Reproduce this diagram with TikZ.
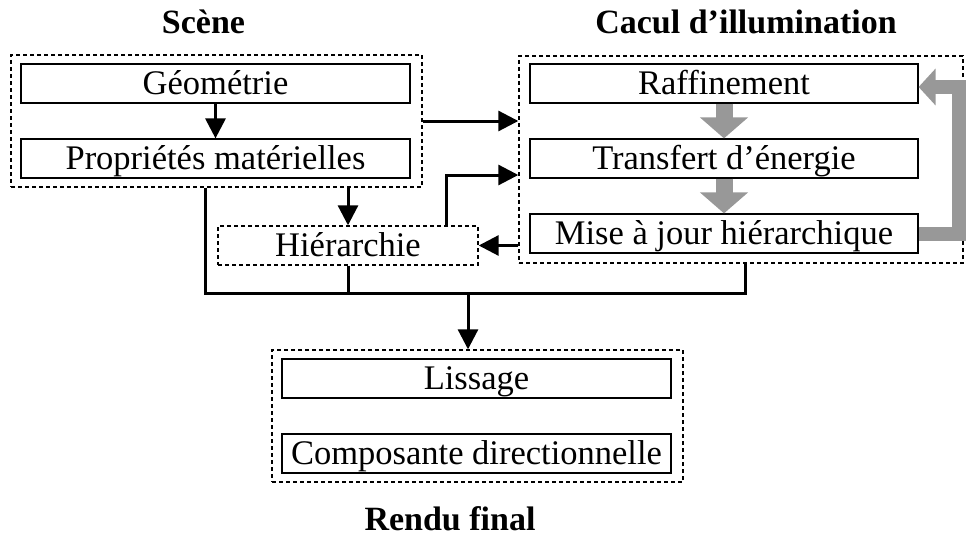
\documentclass[tikz,border=0pt]{standalone}
\usepackage{fontspec}
\setmainfont{Liberation Serif}
\usetikzlibrary{arrows.meta}
\definecolor{arrgray}{RGB}{152,152,152}
\tikzset{
  inbox/.style={draw, line width=1.2pt, minimum width=389pt, minimum height=39pt, inner sep=0pt, text height=27pt, text depth=6pt, font=\fontsize{34.5}{38}\selectfont},
  grpbox/.style={draw, line width=1.4pt, dash pattern=on 4pt off 3pt, inner sep=0pt},
  ttl/.style={font=\fontsize{34}{38}\selectfont\bfseries, inner sep=0pt, anchor=base},
  blk/.style={line width=3pt, -{Triangle[width=20pt,length=20pt]}},
  bline/.style={line width=3pt},
  garr/.style={arrgray, line width=17pt, -{Triangle[width=47pt,length=21pt]}},
  gloop/.style={arrgray, line width=14pt, line join=miter, -{Triangle[width=36pt,length=17pt]}}
}
\begin{document}
\begin{tikzpicture}[x=1pt,y=-1pt]
\useasboundingbox (0,0) rectangle (966,538);
% groups
\node[grpbox, minimum width=411pt, minimum height=132pt] (scene) at (216.5,121) {};
\node[grpbox, minimum width=444pt, minimum height=207pt] (cacul) at (741,159.5) {};
\node[grpbox, minimum width=411pt, minimum height=132pt] (rendu) at (477.5,416) {};
% titles
\node[ttl] (tscene) at (203.5,33) {Scène};
\node[ttl] (tcacul) at (746,33) {Cacul d’illumination};
\node[ttl] (trendu) at (450,530) {Rendu final};
% inner boxes
\node[inbox] (geo) at (215.5,83.5) {Géométrie};
\node[inbox] (prop) at (215.5,158.5) {Propriétés matérielles};
\node[inbox, minimum width=388pt] (raf) at (724,83.5) {Raffinement};
\node[inbox, minimum width=388pt] (trans) at (724,158.5) {Transfert d’énergie};
\node[inbox, minimum width=388pt] (mise) at (724,233.5) {Mise à jour hiérarchique};
\node[inbox, grpbox, minimum width=260pt, minimum height=39pt] (hier) at (348,245.5) {Hiérarchie};
\node[inbox] (liss) at (476.5,378.5) {Lissage};
\node[inbox] (comp) at (476.5,453.5) {Composante directionnelle};
% coordinates
\coordinate (hup) at (446,175);
\coordinate (busL) at (205,293);
\coordinate (busR) at (745,293);
\coordinate (busA) at (468,293);
% black connectors
\draw[blk] (geo) -- (prop);
\draw[blk] (scene.east) -- (cacul.west |- scene.east);
\draw[blk] (hier.north |- scene.south) -- (hier.north);
\draw[blk] (hup |- hier.north) -- (hup) -- (hup -| cacul.west);
\draw[blk] (cacul.west |- hier.east) -- (hier.east);
\draw[bline] (busL |- scene.south) -- (busL) -- (busR) -- (busR |- cacul.south);
\draw[bline] (hier.south) -- (hier.south |- busL);
\draw[blk] (busA) -- (busA |- rendu.north);
% gray arrows
\draw[garr] (raf.south) -- (trans.north);
\draw[garr] (trans.south) -- (mise.north);
\coordinate (lp1) at (959,233.5);
\coordinate (lp2) at (959,87);
\draw[gloop] (mise.east) -- (lp1) -- (lp2) -- (raf.east |- lp2);
\end{tikzpicture}
\end{document}
